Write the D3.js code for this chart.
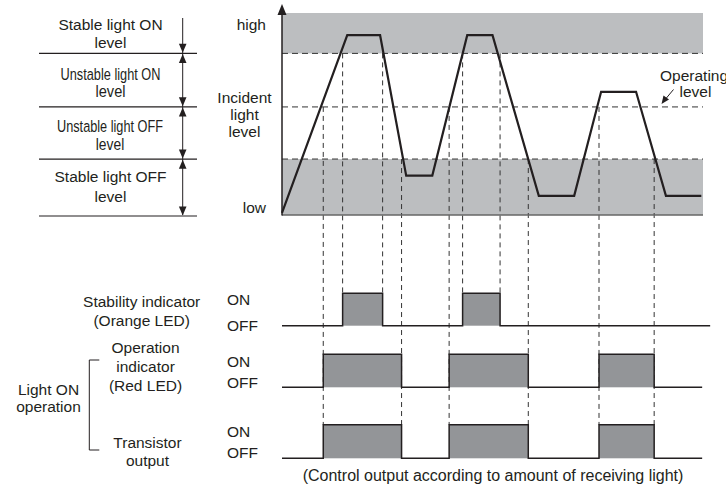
<!DOCTYPE html>
<html><head><meta charset="utf-8">
<script src="https://cdnjs.cloudflare.com/ajax/libs/d3/7.8.5/d3.min.js"></script>
<style>
html,body{margin:0;padding:0;background:#fff;}
svg{display:block;font-family:"Liberation Sans",Arial,Helvetica,sans-serif;}
</style></head>
<body>
<svg id="c" width="726" height="495"></svg>
<script>
// ---------- data ----------
const waveTime  = [0, 15.5, 23.3, 29.5, 35.7, 44.0, 50.0, 61.0, 69.4, 75.8, 84.1, 91.2, 99.6];
const waveLevel = [1, 89, 89, 19.5, 19.5, 89, 89, 9.5, 9.5, 61, 61, 9.5, 9.5];
const thresholdNames  = ["stableOn", "operating", "stableOff"];
const thresholdLevels = [80, 53.5, 27.7];
const stabilityOn  = [[14.4, 23.9], [42.9, 51.8]];
const operationOn  = [[9.8, 28.4], [39.7, 58.5], [75.3, 88.4]];
const transistorOn = [[9.8, 28.4], [39.7, 58.5], [75.3, 88.4]];
const stabilityEnd = 101.7;
const outputEnd = 99.8;
const levelLabels = [["Stable light ON", "level"], ["Unstable light ON", "level"],
                     ["Unstable light OFF", "level"], ["Stable light OFF", "level"]];
const axisLabels = ["high", "low"];
const axisTitle = ["Incident", "light", "level"];
const rowLabels = [["Stability indicator", "(Orange LED)"], ["Operation", "indicator", "(Red LED)"], ["Transistor", "output"]];
const groupLabel = ["Light ON", "operation"];
const stateLabels = ["ON", "OFF"];
const opLabel = ["Operating", "level"];
const caption = "(Control output according to amount of receiving light)";

// ---------- setup ----------
const svg = d3.select("#c");
const INK = "#231f20", LIGHT = "#bcbec0", DARK = "#939598";
const FS = 15.5;
const x = d3.scaleLinear().domain([0, 100]).range([282, 703]);
const y = d3.scaleLinear().domain([0, 100]).range([215, 13]);
const thr = Object.fromEntries(thresholdNames.map((n, i) => [n, thresholdLevels[i]]));

// gray bands
svg.append("rect").attr("x", x(0)).attr("y", y(100)).attr("width", x(100) - x(0))
  .attr("height", y(thr.stableOn) - y(100)).attr("fill", LIGHT);
svg.append("rect").attr("x", x(0)).attr("y", y(thr.stableOff)).attr("width", x(100) - x(0))
  .attr("height", y(0) - y(thr.stableOff)).attr("fill", LIGHT);

// threshold dashed lines
svg.selectAll("line.thr").data(thresholdLevels).join("line")
  .attr("x1", x(0)).attr("x2", x(100)).attr("y1", d => y(d)).attr("y2", d => y(d))
  .attr("stroke", "#333").attr("stroke-width", 1).attr("stroke-dasharray", "6,4");

// rows
const rows = [
  {on: stabilityOn, end: stabilityEnd, yOn: 293.3, yOff: 325.7},
  {on: operationOn, end: outputEnd, yOn: 354.3, yOff: 387.3},
  {on: transistorOn, end: outputEnd, yOn: 424.7, yOff: 458.3}
];

// vertical guides
const guides = [];
stabilityOn.forEach(([a, b]) => { guides.push({t: a, lv: thr.stableOn, to: rows[0].yOn}); guides.push({t: b, lv: thr.stableOn, to: rows[0].yOn}); });
operationOn.forEach(([a, b]) => { guides.push({t: a, lv: thr.operating, to: rows[2].yOn}); guides.push({t: b, lv: thr.stableOff, to: rows[2].yOn}); });
svg.selectAll("line.guide").data(guides).join("line")
  .attr("x1", d => x(d.t)).attr("x2", d => x(d.t)).attr("y1", d => y(d.lv)).attr("y2", d => d.to)
  .attr("stroke", "#333").attr("stroke-width", 1).attr("stroke-dasharray", "5,4");

// bottom axis line of top chart
svg.append("line").attr("x1", x(0)).attr("x2", x(100)).attr("y1", y(0)).attr("y2", y(0))
  .attr("stroke", "#666").attr("stroke-width", 1.5);
// y axis with arrow
svg.append("line").attr("x1", x(0)).attr("x2", x(0)).attr("y1", y(0) + 0.5).attr("y2", 12)
  .attr("stroke", INK).attr("stroke-width", 1.5);
svg.append("path").attr("d", `M${x(0)},4 L${x(0) - 4.5},15 L${x(0) + 4.5},15 Z`).attr("fill", INK);

// waveform
const wave = waveTime.map((t, i) => [t, waveLevel[i]]);
svg.append("path").datum(wave)
  .attr("d", d3.line().x(d => x(d[0])).y(d => y(d[1])))
  .attr("fill", "none").attr("stroke", INK).attr("stroke-width", 2.2).attr("stroke-linejoin", "miter");

// signal rows
rows.forEach(r => {
  svg.append("g").selectAll("rect").data(r.on).join("rect")
    .attr("x", d => x(d[0])).attr("width", d => x(d[1]) - x(d[0]))
    .attr("y", r.yOn).attr("height", r.yOff - r.yOn).attr("fill", DARK);
  let p = `M${x(0)},${r.yOff}`;
  r.on.forEach(([a, b]) => { p += ` H${x(a)} V${r.yOn} H${x(b)} V${r.yOff}`; });
  p += ` H${x(r.end)}`;
  svg.append("path").attr("d", p).attr("fill", "none").attr("stroke", INK).attr("stroke-width", 1.5);
});

// ---------- left level legend ----------
const bounds = [thr.stableOn, thr.operating, thr.stableOff, 0];
svg.selectAll("line.lv").data(bounds).join("line")
  .attr("x1", 39).attr("x2", 197).attr("y1", d => y(d) + (d === 0 ? 1 : 0)).attr("y2", d => y(d) + (d === 0 ? 1 : 0))
  .attr("stroke", INK).attr("stroke-width", 1.2);
const ax = 182.7;
svg.append("line").attr("x1", ax).attr("x2", ax).attr("y1", 18).attr("y2", y(0)).attr("stroke", INK).attr("stroke-width", 1);
function arrowHead(tipY, dir) {
  const h = 9, w = 3.8;
  svg.append("path").attr("d", `M${ax},${tipY} L${ax - w},${tipY - dir * h} L${ax + w},${tipY - dir * h} Z`).attr("fill", INK);
}
bounds.forEach((b, i) => {
  const yy = y(b) + (b === 0 ? 1 : 0);
  arrowHead(yy - 0.6, 1);
  if (b !== 0) arrowHead(yy + 0.6, -1);
});
const lvBase = [[29.5, 48.3], [80, 96.5], [131.7, 150], [182, 202]];
const lvCx = [110.5, 110.5, 110, 110.5];
const condensed = [null, [100, 30], [106, 28.5], null];
levelLabels.forEach((lines, i) => {
  lines.forEach((s, j) => {
    const t = svg.append("text").attr("x", lvCx[i]).attr("y", lvBase[i][j]).attr("text-anchor", "middle")
      .attr("font-size", condensed[i] ? 16.3 : FS).attr("fill", INK).text(s);
    if (condensed[i]) t.attr("textLength", condensed[i][j]).attr("lengthAdjust", "spacingAndGlyphs");
  });
});

// axis labels
svg.append("text").attr("x", 266).attr("y", 29.5).attr("text-anchor", "end").attr("font-size", FS).attr("fill", INK).text(axisLabels[0]);
svg.append("text").attr("x", 266).attr("y", 213.3).attr("text-anchor", "end").attr("font-size", FS).attr("fill", INK).text(axisLabels[1]);
axisTitle.forEach((s, i) => svg.append("text").attr("x", 244.5).attr("y", [102.7, 120, 137][i])
  .attr("text-anchor", "middle").attr("font-size", FS).attr("fill", INK).text(s));

// operating level annotation
svg.append("text").attr("x", 660).attr("y", 80.5).attr("font-size", FS).attr("fill", INK).text(opLabel[0]);
svg.append("text").attr("x", 679.5).attr("y", 96.5).attr("font-size", FS).attr("fill", INK).text(opLabel[1]);
svg.append("line").attr("x1", 673.5).attr("y1", 89.5).attr("x2", 666).attr("y2", 98.5).attr("stroke", INK).attr("stroke-width", 1);
svg.append("path").attr("d", "M661.5,104 L663.5,95.5 L669,99.5 Z").attr("fill", INK);

// row labels
const rowCfg = [
  {cx: 141.7, base: [306.5, 326]},
  {cx: 145.5, base: [353, 371.5, 391]},
  {cx: 147.5, base: [447.5, 465.5]}
];
rowLabels.forEach((lines, i) => lines.forEach((s, j) =>
  svg.append("text").attr("x", rowCfg[i].cx).attr("y", rowCfg[i].base[j]).attr("text-anchor", "middle")
    .attr("font-size", FS).attr("fill", INK).text(s)));
const onBase = [304.5, 366.5, 436.5], offBase = [331, 388, 458.3];
rows.forEach((r, i) => {
  svg.append("text").attr("x", 227).attr("y", onBase[i]).attr("font-size", FS).attr("fill", INK).text(stateLabels[0]);
  svg.append("text").attr("x", 227).attr("y", offBase[i]).attr("font-size", FS).attr("fill", INK).text(stateLabels[1]);
});
// group bracket
svg.append("path").attr("d", "M99.3,360 H89.3 V450 H99.3").attr("fill", "none").attr("stroke", INK).attr("stroke-width", 1);
groupLabel.forEach((s, i) => svg.append("text").attr("x", 48.5).attr("y", [395, 412][i]).attr("text-anchor", "middle")
  .attr("font-size", FS).attr("fill", INK).text(s));

// caption
svg.append("text").attr("x", 493).attr("y", 481).attr("text-anchor", "middle").attr("font-size", 16).attr("fill", INK).text(caption);
</script>
</body></html>
